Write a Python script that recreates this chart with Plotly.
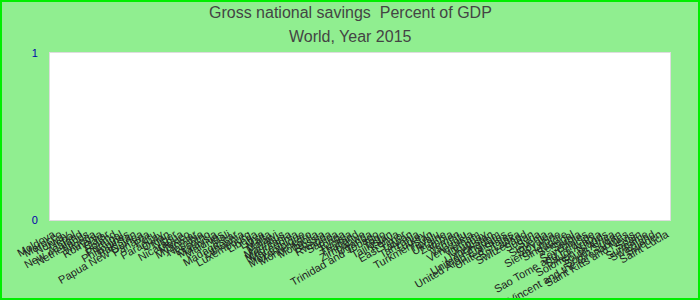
import plotly.graph_objects as go

countries = [
    "Moldova", "Morocco", "Norway", "Nepal", "New Zealand", "Netherlands", "Nigeria",
    "Romania", "Qatar", "Poland", "Portugal", "Philippines", "Pakistan",
    "Papua New Guinea", "Panama", "Peru", "Paraguay", "Oman", "Niger", "Nicaragua",
    "Mexico", "Myanmar", "Namibia", "Lesotho", "Malaysia", "Maldives", "Mali",
    "Madagascar", "Lithuania", "Luxembourg", "Liberia", "Libya", "Malta", "Malawi",
    "Mauritius", "Mauritania", "Macedonia", "Mozambique", "Montenegro", "Mongolia",
    "Russia", "Rwanda", "Samoa", "Tonga", "Tunisia", "Thailand", "Zimbabwe", "Uganda",
    "Trinidad and Tobago", "Togo", "Tajikistan", "Kenya", "East Timor", "Taiwan",
    "Tanzania", "Turkey", "Turkmenistan", "Tuvalu", "Ukraine", "Zambia", "Yemen",
    "Vanuatu", "Venezuela", "Vietnam", "Uruguay", "Uzbekistan", "United Kingdom",
    "United Arab Emirates", "United States", "Sri Lanka", "Switzerland", "Sudan",
    "Syria", "Slovenia", "Slovakia", "Sierra Leone", "Singapore", "Senegal", "Serbia",
    "Seychelles", "Sao Tome and Principe", "Saudi Arabia", "Solomon Islands",
    "South Africa", "South Sudan", "Saint Vincent and the Grenadines",
    "Saint Kitts and Nevis", "Spain", "Suriname", "Swaziland", "Sweden", "Saint Lucia",
]
# No values are drawn in the reference chart
savings = [None for _ in countries]

title_line1 = "Gross national savings  Percent of GDP"
title_line2 = "World, Year 2015"

fig = go.Figure()
fig.add_trace(go.Bar(x=countries, y=savings, marker_color="#4472c4"))

W, H = 700, 300
ml, mr, mt, mb = 50, 30, 53, 80
pw, ph = W - ml - mr, H - mt - mb

fig.update_layout(
    width=W, height=H,
    margin=dict(l=ml, r=mr, t=mt, b=mb, pad=0),
    paper_bgcolor="#90EE90",
    plot_bgcolor="#ffffff",
    showlegend=False,
    xaxis=dict(
        type="category", categoryorder="array", categoryarray=countries,
        range=[-0.5, len(countries) - 0.5], tickmode="linear", dtick=1,
        automargin=False,
        tickangle=-30, showgrid=False, zeroline=False,
        showline=True, linecolor="#dddddd", mirror=True,
        ticks="outside", ticklen=3, tickcolor="rgba(0,0,0,0)",
        tickfont=dict(family="Arial, Liberation Sans, sans-serif", size=11, color="#222222"),
    ),
    yaxis=dict(
        range=[0, 1], tickvals=[0, 1], ticktext=["0", "1"], automargin=False,
        showgrid=False, zeroline=False,
        showline=True, linecolor="#dddddd", mirror=True,
        ticks="outside", ticklen=9, tickcolor="rgba(0,0,0,0)",
        tickfont=dict(family="Arial, Liberation Sans, sans-serif", size=11, color="#0000aa"),
    ),
)

for txt, ypx in [(title_line1, 13), (title_line2, 36)]:
    fig.add_annotation(
        text=txt, xref="paper", yref="paper",
        x=(W / 2 - ml) / pw, y=1 + (mt - ypx) / ph,
        xanchor="center", yanchor="middle", showarrow=False,
        font=dict(family="Arial, Liberation Sans, sans-serif", size=16, color="#444444"),
    )

fig.add_shape(
    type="rect", xref="paper", yref="paper",
    x0=-(ml - 1) / pw, x1=1 + (mr - 1) / pw,
    y0=-(mb - 1) / ph, y1=1 + (mt - 1) / ph,
    line=dict(color="#00ee00", width=2), fillcolor="rgba(0,0,0,0)", layer="above",
)

fig.write_html("out.html")
